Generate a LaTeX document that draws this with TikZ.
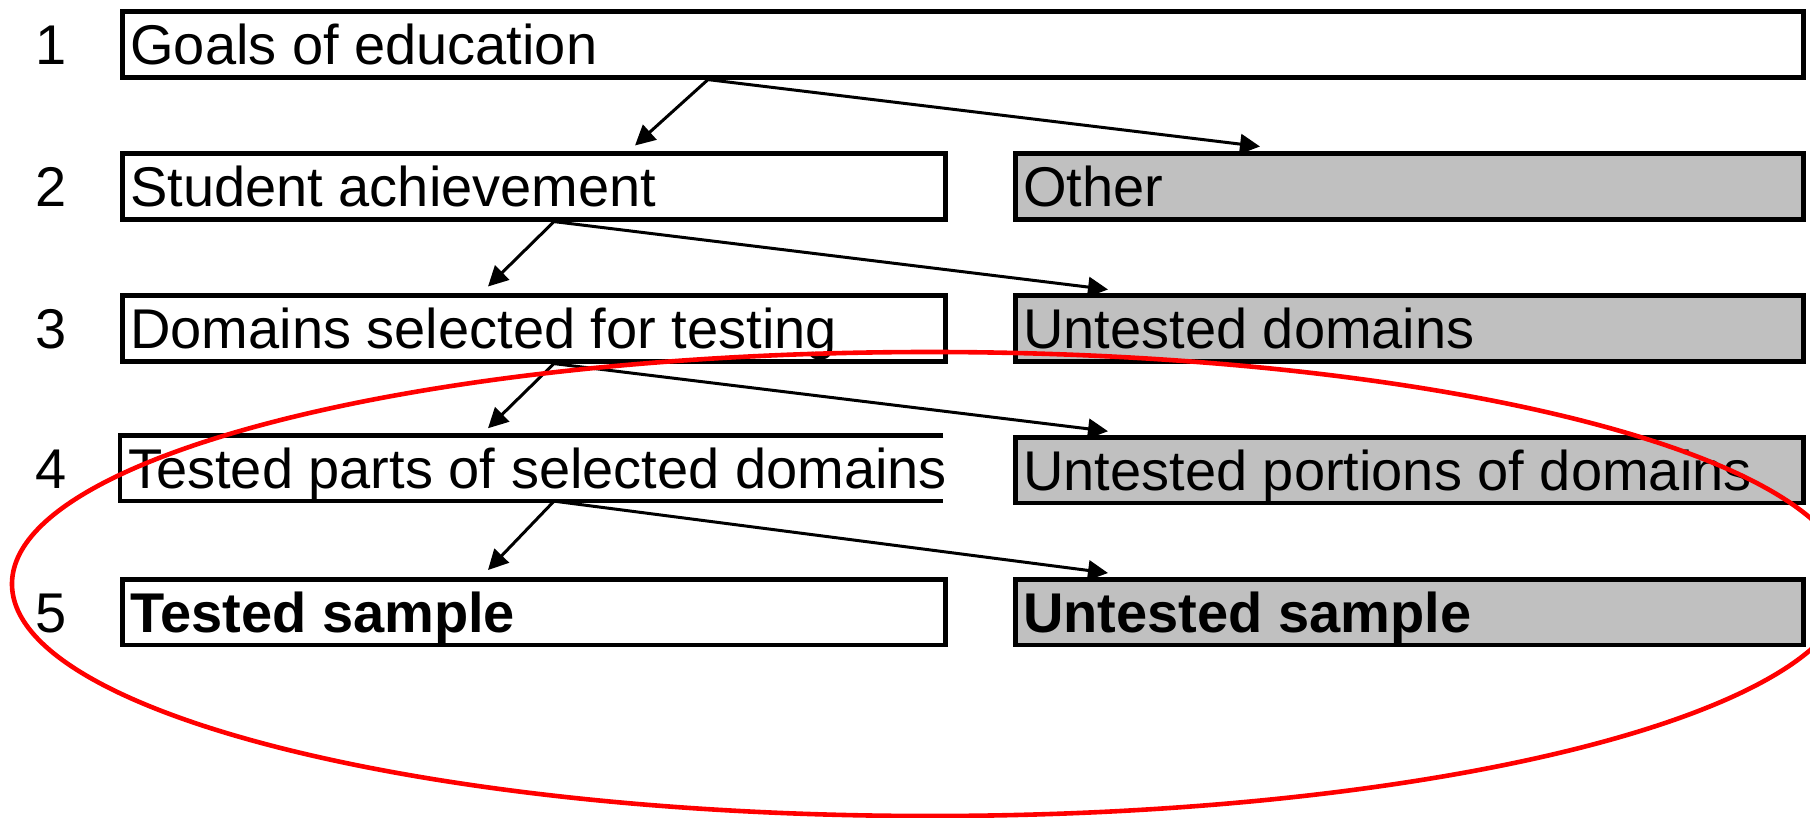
\documentclass[tikz,border=0pt]{standalone}
\usepackage{fontspec}
\setmainfont{Liberation Sans}
\usetikzlibrary{arrows.meta,calc}
\definecolor{boxgray}{RGB}{192,192,192}
\tikzset{
  txt/.style={font=\fontsize{56pt}{67pt}\selectfont, text height=50.4pt, text depth=10.3pt},
  wbox/.style={txt, rectangle, draw=black, line width=4.6pt, fill=white, anchor=north west,
    minimum height=65.5pt, inner xsep=8pt, inner ysep=0pt},
  gbox/.style={wbox, fill=boxgray},
  nobox/.style={txt, rectangle, anchor=north west, fill=white,
    minimum height=65.5pt, inner xsep=8pt, inner ysep=0pt},
  numlbl/.style={txt, inner sep=0pt, anchor=center},
  arr/.style={line width=3pt, -{Triangle[length=20pt,width=20pt]}},
  loop/.style={draw=red, line width=4.6pt}
}
\newcommand{\lbox}[1]{\makebox[807pt][l]{#1}}
\newcommand{\rbox}[1]{\makebox[772pt][l]{#1}}
\begin{document}
\begin{tikzpicture}[x=1pt,y=-1pt]
\useasboundingbox (0,0) rectangle (1810,818);
\fill[white] (0,0) rectangle (1810,818);
\clip (0,0) rectangle (1810,818);

% row boxes
\node[wbox, minimum width=1681pt] (b1) at (120,9.5) {\makebox[1665pt][l]{Goals of education}};
\node[wbox, minimum width=823pt] (b2) at (120,151.5) {\lbox{Student achievement}};
\node[gbox, minimum width=788pt] (o2) at (1013,151.5) {\rbox{Other}};
\node[wbox, minimum width=823pt] (b3) at (120,293.5) {\lbox{Domains selected for testing}};
\node[gbox, minimum width=788pt] (o3) at (1013,293.5) {\rbox{Untested domains}};
\node[nobox, minimum width=823pt] (b4) at (120,435.25) {\lbox{Tested parts of selected domains}};
\draw[line width=4.6pt] (b4.north east) -- (b4.north west) -- (b4.south west) -- (b4.south east);
\node[gbox, minimum width=788pt] (o4) at (1013,435.25) {\rbox{Untested portions of domains}};
\node[wbox, minimum width=823pt] (b5) at (120,577) {\lbox{\bfseries Tested sample}};
\node[gbox, minimum width=788pt] (o5) at (1013,577) {\rbox{\bfseries Untested sample}};

% row numbers
\node[numlbl] (n1) at ($(b1.west)+(-69,0)$) {1};
\node[numlbl] (n2) at ($(b2.west)+(-69,0)$) {2};
\node[numlbl] (n3) at ($(b3.west)+(-69,0)$) {3};
\node[numlbl] (n4) at ($(b4.west)+(-69,0)$) {4};
\node[numlbl] (n5) at ($(b5.west)+(-69,0)$) {5};

% connector points
\coordinate (s1) at ($(b1.south west)+(588,0)$);
\coordinate (s2) at ($(b2.south west)+(434,0)$);
\coordinate (s3) at ($(b3.south west)+(434,0)$);
\coordinate (s4) at ($(b4.south west)+(434,0)$);
\coordinate (l2) at ($(b2.north west)+(515,-6)$);
\coordinate (r2) at ($(o2.north west)+(247,-5)$);
\coordinate (l3) at ($(b3.north west)+(368,-7)$);
\coordinate (r3) at ($(o3.north west)+(95,-4)$);
\coordinate (l4) at ($(b4.north west)+(368,-7)$);
\coordinate (r4) at ($(o4.north west)+(95,-4)$);
\coordinate (l5) at ($(b5.north west)+(368,-7)$);
\coordinate (r5) at ($(o5.north west)+(95,-4)$);

\draw[arr] (s1) -- (l2);
\draw[arr] (s1) -- (r2);
\draw[arr] (s2) -- (l3);
\draw[arr] (s2) -- (r3);
\draw[arr] (s3) -- (l4);
\draw[arr] (s3) -- (r4);
\draw[arr] (s4) -- (l5);
\draw[arr] (s4) -- (r5);

% red ellipse
\draw[loop] (930,584) ellipse [x radius=918pt, y radius=232pt];
\end{tikzpicture}
\end{document}
